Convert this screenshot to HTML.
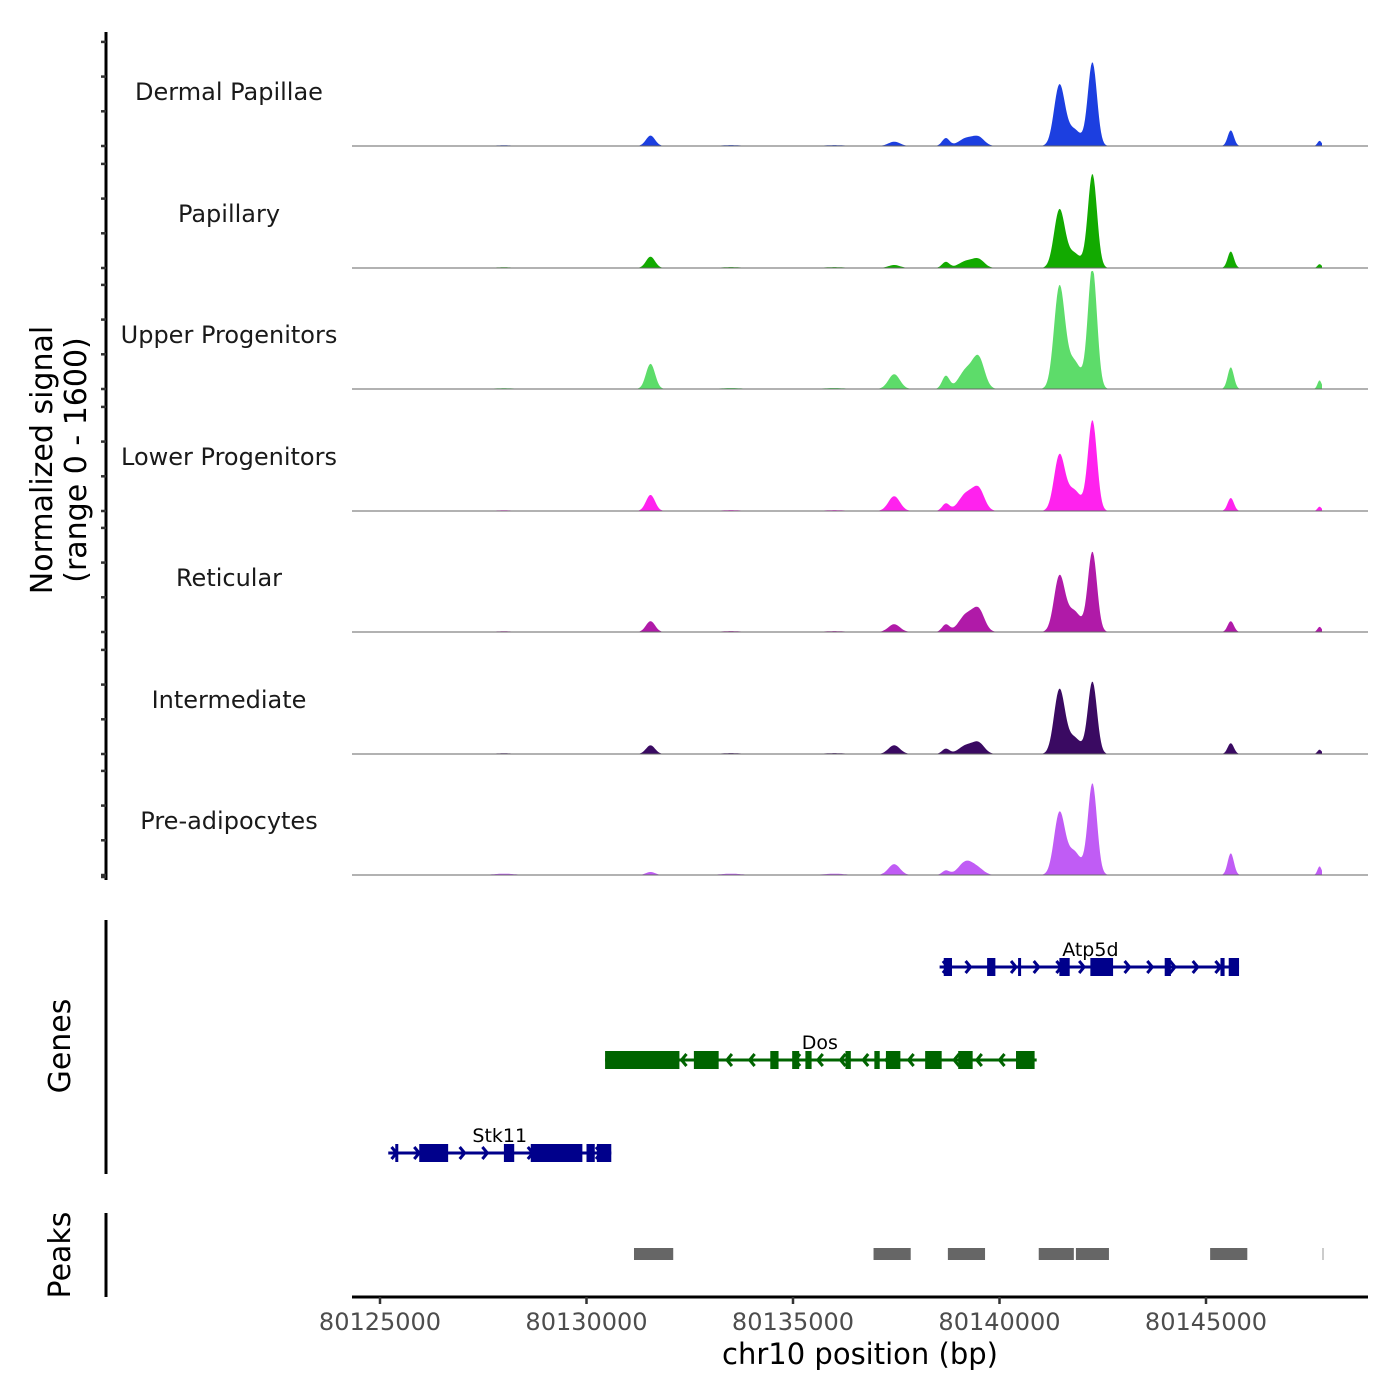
<!DOCTYPE html>
<html><head><meta charset="utf-8"><style>
html,body{margin:0;padding:0;background:#fff;}
svg{display:block;font-family:"DejaVu Sans","Liberation Sans",sans-serif;}
</style></head><body>
<svg id="chart" width="1400" height="1400" viewBox="0 0 1400 1400">
<g id="tracks"></g>
<g id="yaxis"></g>
<g id="genes"></g>
<g id="peaks"></g>
<g id="xaxis"></g>
<text x="0" y="0" transform="translate(52,460) rotate(-90)" text-anchor="middle" font-size="30">Normalized signal</text>
<text x="0" y="0" transform="translate(86,460) rotate(-90)" text-anchor="middle" font-size="30">(range 0 - 1600)</text>
<text x="0" y="0" transform="translate(70,1046) rotate(-90)" text-anchor="middle" font-size="30">Genes</text>
<text x="0" y="0" transform="translate(70,1255) rotate(-90)" text-anchor="middle" font-size="30">Peaks</text>
<text x="860" y="1364" text-anchor="middle" font-size="29">chr10 position (bp)</text>
</svg>
<script>
const NS="http://www.w3.org/2000/svg";
// ---- data ----
const trackNames=["Dermal Papillae","Papillary","Upper Progenitors","Lower Progenitors","Reticular","Intermediate","Pre-adipocytes"];
const trackColors=["#1c3fe0","#12aa00","#5ddc6a","#ff22ee","#b01aa8","#3a0a62","#c05cf5"];
const peakCenters=[80131550,80137450,80138700,80139200,80139500,80141450,80141800,80142250,80145600,80147750,80128000,80133500,80136000];
const peakWidths=[110,140,90,180,140,130,170,110,75,50,250,250,250];
const sigDermal=[120,50,90,90,90,690,190,960,180,60,8,10,10];
const sigPapillary=[130,35,70,80,90,660,170,1080,190,45,8,10,10];
const sigUpper=[290,170,150,220,330,1160,320,1400,250,100,10,12,12];
const sigLower=[185,170,85,200,230,630,240,1040,150,50,8,10,10];
const sigReticular=[125,90,85,200,230,630,240,920,125,60,8,10,10];
const sigIntermediate=[100,100,60,100,115,730,190,830,125,50,8,10,10];
const sigPreadipo=[35,125,50,160,55,700,270,1050,250,100,15,15,15];
const signals=[sigDermal,sigPapillary,sigUpper,sigLower,sigReticular,sigIntermediate,sigPreadipo];
const xTicks=[80125000,80130000,80135000,80140000,80145000];
const genes=[
 {name:"Atp5d",start:80138550,end:80145800,strand:1,color:"#00008b",row:0,labelPos:80142200,
  exons:[[80138650,80138850],[80139700,80139900],[80140450,80140500],[80141450,80141700],[80142200,80142750],[80144000,80144150],[80145350,80145450],[80145550,80145800]]},
 {name:"Dos",start:80130450,end:80140900,strand:-1,color:"#006400",row:1,labelPos:80135650,
  exons:[[80130450,80132250],[80132600,80133200],[80134450,80134650],[80134980,80135150],[80135300,80135450],[80136270,80136400],[80136970,80137100],[80137250,80137600],[80138200,80138600],[80139000,80139350],[80140400,80140850]]},
 {name:"Stk11",start:80125200,end:80130600,strand:1,color:"#00008b",row:2,labelPos:80127900,
  exons:[[80125370,80125420],[80125950,80126650],[80128000,80128250],[80128650,80129900],[80130000,80130200],[80130250,80130600]]}
];
const peakStarts=[80131150,80136950,80138750,80140950,80141850,80145100];
const peakEnds=[80132100,80137850,80139650,80141800,80142650,80146000];
// ---- scales ----
const X=bp=>380+(bp-80125000)*206.5/5000;
const trackBase=[146,268,389,511,632,754,875];
const Ys=v=>v*139/1600;
function el(tag,attrs,parent){const e=document.createElementNS(NS,tag);for(const k in attrs)e.setAttribute(k,attrs[k]);parent.appendChild(e);return e;}
const gT=document.getElementById('tracks');
trackNames.forEach((nm,ti)=>{
 const base=trackBase[ti];const vals=signals[ti];
 const g=el('g',{},gT);
 
 
 let d="M352,"+base;
 for(let px=352;px<=1322;px+=1){
  const bp=80125000+(px-380)*5000/206.5;
  let v=0;
  for(let i=0;i<peakCenters.length;i++){const z=(bp-peakCenters[i])/peakWidths[i];v+=vals[i]*Math.exp(-0.5*z*z);}
  const h=Math.min(Ys(v),118);
  d+=" L"+px+","+(base-h).toFixed(1);
 }
 d+=" L1322,"+base+" Z";
 const p=el('path',{d:d,fill:trackColors[ti]},g);
 
 
 const bl=el('line',{x1:352,x2:1368,y1:base,y2:base,stroke:"#666","stroke-width":1},g);
 
 
 const t=el('text',{x:229,y:base-46,"text-anchor":"middle","font-size":24,fill:"#1a1a1a"},g);
 t.textContent=nm;
 
 
});
const gY=document.getElementById('yaxis');
el('line',{x1:106,x2:106,y1:32,y2:880,stroke:"#000","stroke-width":3},gY);
trackBase.forEach(b=>{for(let k=0;k<4;k++){const y=b-k*34.7;if(y<35)continue;el('line',{x1:101,x2:106,y1:y,y2:y,stroke:"#333","stroke-width":2.5},gY);}});
el('line',{x1:101,x2:106,y1:877,y2:877,stroke:"#333","stroke-width":2.5},gY);
// genes
const gG=document.getElementById('genes');
el('line',{x1:106,x2:106,y1:920,y2:1174,stroke:"#000","stroke-width":3},gG);
const rowY=[967,1060,1153];
genes.forEach(gn=>{
 const y=rowY[gn.row];
 const g=el('g',{},gG);
 
 
 el('line',{x1:X(gn.start),x2:X(gn.end),y1:y,y2:y,stroke:gn.color,"stroke-width":3},g);
 const step=550;
 for(let bp=gn.start+200;bp<gn.end;bp+=step){const x=X(bp);const s=gn.strand;
  el('polyline',{points:(x-5*s)+","+(y-6)+" "+x+","+y+" "+(x-5*s)+","+(y+6),fill:"none",stroke:gn.color,"stroke-width":3},g);}
 gn.exons.forEach(ex=>{const r=el('rect',{x:X(ex[0]),y:y-9,width:Math.max(X(ex[1])-X(ex[0]),3),height:18,fill:gn.color},g);
  
  });
 const t=el('text',{x:X(gn.labelPos),y:y-11,"text-anchor":"middle","font-size":19,fill:"#000"},g);
 t.textContent=gn.name;
 
 
});
// peaks
const gP=document.getElementById('peaks');
el('line',{x1:106,x2:106,y1:1213,y2:1297,stroke:"#000","stroke-width":3},gP);
peakStarts.forEach((s,i)=>{const r=el('rect',{x:X(s),y:1248,width:X(peakEnds[i])-X(s),height:12,fill:"#666"},gP);
 
 });
el('rect',{x:1322,y:1248,width:2,height:12,fill:"#ccc"},gP);
// x axis
const gX=document.getElementById('xaxis');
el('line',{x1:352,x2:1368,y1:1297,y2:1297,stroke:"#000","stroke-width":3},gX);
xTicks.forEach(v=>{const x=X(v);el('line',{x1:x,x2:x,y1:1297,y2:1304,stroke:"#333","stroke-width":2.5},gX);
 const t=el('text',{x:x,y:1330,"text-anchor":"middle","font-size":24,fill:"#4d4d4d"},gX);t.textContent=v;
 
 });
</script>
</body></html>
